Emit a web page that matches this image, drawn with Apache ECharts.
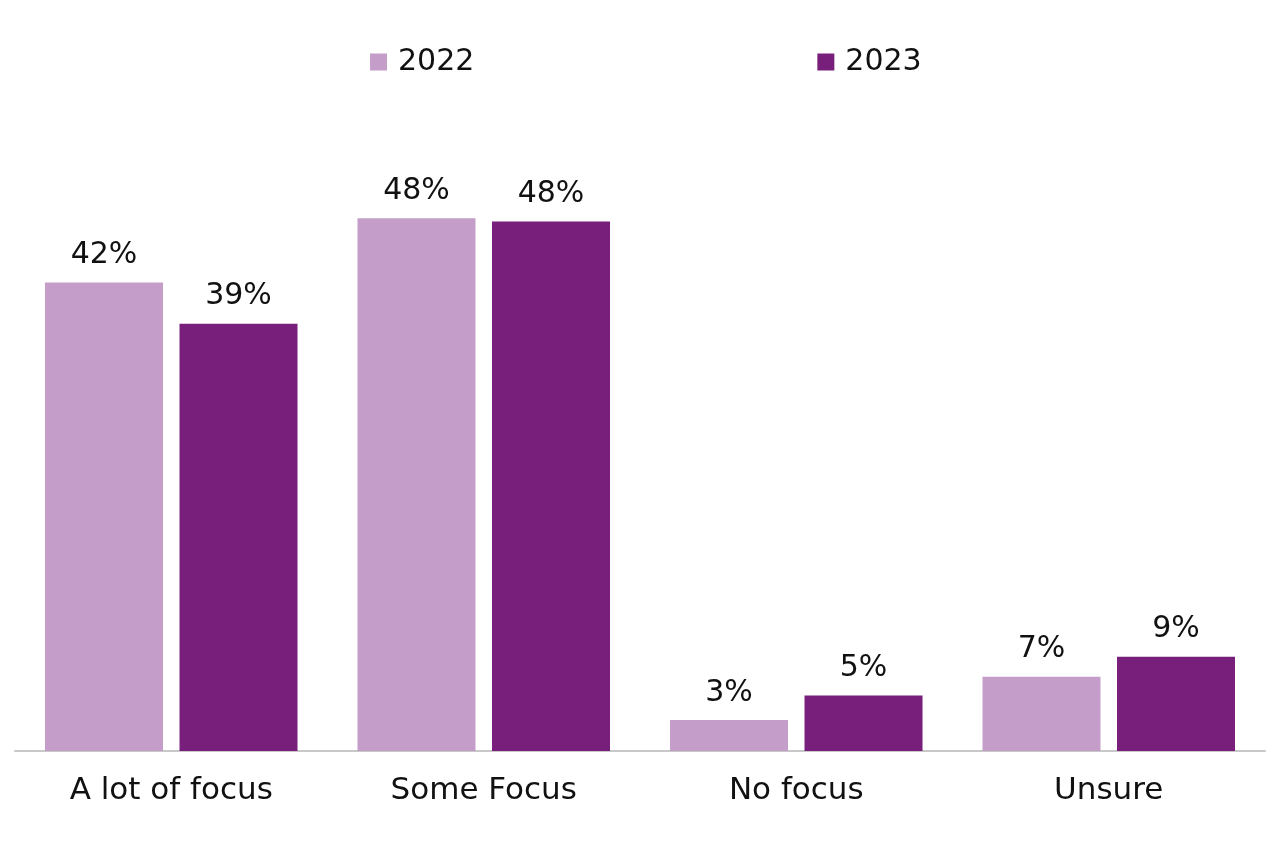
<!DOCTYPE html>
<html>
<head>
<meta charset="utf-8">
<script src="https://cdn.jsdelivr.net/npm/echarts@6/dist/echarts.min.js"></script>
<style>html,body{margin:0;padding:0;background:#fff}#c{width:1280px;height:853px}</style>
</head>
<body>
<div id="c"></div>
<script>
const categories = ['A lot of focus', 'Some Focus', 'No focus', 'Unsure'];
const series2022 = [42.2, 48.0, 2.8, 6.7];
const series2023 = [38.5, 47.7, 5.0, 8.5];
const seriesNames = ['2022', '2023'];

const font = '"DejaVu Sans", sans-serif';
const chart = echarts.init(document.getElementById('c'));
const lbl = {
  show: true, position: 'top', distance: 12,
  fontFamily: font, fontSize: 30, color: '#111',
  formatter: p => Math.round(p.value) + '%'
};
chart.setOption({
  animation: false,
  legend: {
    left: 365, top: 42, itemGap: 343, itemWidth: 17, itemHeight: 17,
    icon: 'rect',
    textStyle: { fontFamily: font, fontSize: 30, color: '#111', padding: [0, 0, 0, 6] },
    data: seriesNames
  },
  grid: { left: 15, right: 15, top: 85, bottom: 102 },
  xAxis: {
    type: 'category', data: categories,
    axisLine: { lineStyle: { color: '#c8c8c8', width: 2 } },
    axisTick: { show: false },
    axisLabel: { fontFamily: font, fontSize: 31, color: '#111', margin: 24 }
  },
  yAxis: { type: 'value', min: 0, max: 60, show: false, splitLine: { show: false } },
  series: [
    { name: seriesNames[0], type: 'bar', data: series2022, barWidth: 118, barGap: '14%',
      itemStyle: { color: '#C49DC8' }, label: lbl },
    { name: seriesNames[1], type: 'bar', data: series2023, barWidth: 118, barGap: '14%',
      itemStyle: { color: '#771F7B' }, label: lbl }
  ]
});
</script>
</body>
</html>
